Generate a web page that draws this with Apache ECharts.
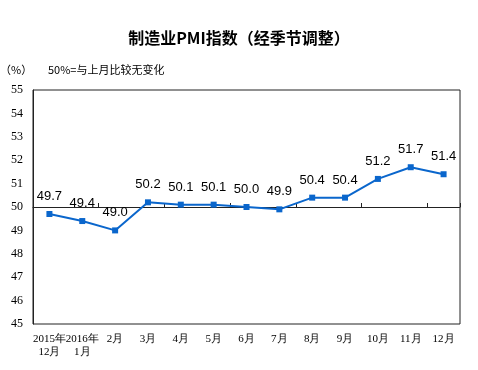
<!DOCTYPE html>
<html><head><meta charset="utf-8">
<script src="https://cdn.jsdelivr.net/npm/echarts@6/dist/echarts.min.js"></script>
<style>html,body{margin:0;padding:0;background:#fff}#c{width:478px;height:370px}</style>
</head><body><div id="c"></div>
<script>
var categories = ['2015年\n12月','2016年\n1月','2月','3月','4月','5月','6月','7月','8月','9月','10月','11月','12月'];
var pmiValues = [49.7, 49.4, 49.0, 50.2, 50.1, 50.1, 50.0, 49.9, 50.4, 50.4, 51.2, 51.7, 51.4];
var yTicks = [45,46,47,48,49,50,51,52,53,54,55];
var baseline = 50;

var chart = echarts.init(document.getElementById('c'));
chart.setOption({
  animation: false,
  backgroundColor: '#fff',
  title: [
    {text: '制造业PMI指数（经季节调整）', left: 'center', top: 25,
     textStyle: {fontFamily: 'Noto Sans CJK SC', fontSize: 16, fontWeight: 'bold', color: '#000'}},
    {text: '（%）', left: -5, top: 59,
     textStyle: {fontFamily: 'Noto Sans CJK SC', fontSize: 11, fontWeight: 'normal', color: '#000'}},
    {text: '50%=与上月比较无变化', left: 43, top: 59,
     textStyle: {fontFamily: 'Noto Sans CJK SC', fontSize: 11, fontWeight: 'normal', color: '#000'}}
  ],
  grid: {left: 33, right: 18, top: 90, bottom: 46, show: true, borderColor: '#222', borderWidth: 1, backgroundColor: 'transparent'},
  xAxis: [
    {type: 'category', data: categories, position: 'bottom', boundaryGap: true,
     axisLine: {show: false}, axisTick: {show: false},
     axisLabel: {interval: 0, color: '#000', fontFamily: 'Liberation Serif', fontSize: 11, lineHeight: 13, margin: 9}},
    {type: 'category', data: categories, position: 'top', offset: -117, boundaryGap: true,
     axisLine: {show: true, lineStyle: {color: '#222', width: 1}},
     axisTick: {show: true, length: 4, lineStyle: {color: '#222'}},
     axisLabel: {show: false}}
  ],
  yAxis: {type: 'value', min: yTicks[0], max: yTicks[yTicks.length-1], interval: 1,
    axisLine: {show: true, lineStyle: {color: '#222'}}, axisTick: {show: false}, splitLine: {show: false},
    axisLabel: {color: '#000', fontFamily: 'Liberation Serif', fontSize: 12, margin: 10}},
  series: [{
    type: 'line', data: pmiValues, xAxisIndex: 0,
    symbol: 'rect', symbolSize: 6,
    lineStyle: {color: '#0A66CC', width: 2},
    itemStyle: {color: '#0A66CC'},
    label: {show: true, position: 'top', distance: 8, color: '#000', fontFamily: 'Liberation Sans', fontSize: 13,
      formatter: function(p){ return p.value.toFixed(1); }}
  }]
});
</script></body></html>
